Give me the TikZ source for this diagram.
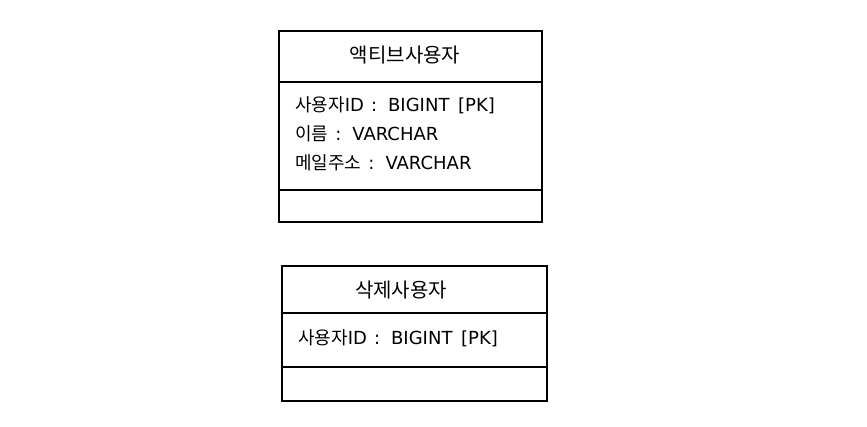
\documentclass[tikz,border=0pt]{standalone}
\usepackage{fontspec}
\setmainfont{Noto Sans CJK KR}
\newfontfamily\latf{DejaVu Sans}
\newcommand{\lt}[1]{{\latf #1}}
\newcommand{\cln}{\hspace{7pt}{\latf :}\hspace{11pt}}
\begin{document}
\begin{tikzpicture}[x=1pt,y=-1pt,
  cell/.style={draw=black,line width=1.8pt,inner sep=0pt,anchor=north west,minimum width=#1},
  hdr/.style={font=\fontsize{20}{22}\selectfont},
  fld/.style={font=\fontsize{18}{29}\selectfont,align=left,anchor=west,inner sep=0pt}]
\useasboundingbox (0,0) rectangle (867,427);
% box 1
\node[cell=263pt,minimum height=51pt] (h1) at (278,30) {};
\node[cell=263pt,minimum height=108pt] (b1) at (278,81) {};
\node[cell=263pt,minimum height=32pt] (f1) at (278,189) {};
\node[hdr] (t1) at (405,55) {액티브사용자};
\node[fld] (l1) at (295,134) {사용자\lt{ID}\cln\lt{BIGINT\hspace{3pt} [PK]}\\이름\cln\lt{VARCHAR}\\메일주소\cln\lt{VARCHAR}};
% box 2
\node[cell=265pt,minimum height=47pt] (h2) at (281,265) {};
\node[cell=265pt,minimum height=54pt] (b2) at (281,312) {};
\node[cell=265pt,minimum height=34pt] (f2) at (281,366) {};
\node[hdr] (t2) at (401,290) {삭제사용자};
\node[fld] (l2) at (298,338) {사용자\lt{ID}\cln\lt{BIGINT\hspace{3pt} [PK]}};
\end{tikzpicture}
\end{document}
